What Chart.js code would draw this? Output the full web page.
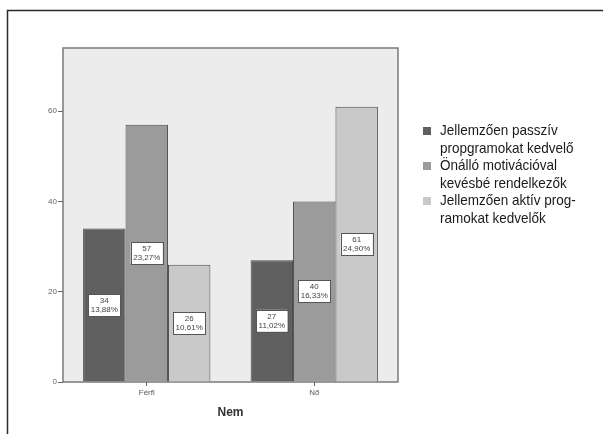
<!DOCTYPE html>
<html>
<head>
<meta charset="utf-8">
<script src="https://cdn.jsdelivr.net/npm/chart.js@4"></script>
<style>
  html, body { margin: 0; padding: 0; background: #fff; }
  #wrap { width: 603px; height: 434px; }
</style>
</head>
<body>
<div id="wrap"><canvas id="nemChart" width="603" height="434"></canvas></div>
<script>
// Nem szerinti megoszlás, programtípusonként
const categories = ['Férfi', 'Nő'];
const seriesLines = [
    ['Jellemzően passzív', 'propgramokat kedvelő'],
    ['Önálló motivációval', 'kevésbé rendelkezők'],
    ['Jellemzően aktív prog-', 'ramokat kedvelők']
];
const passzivValues = [34, 27];
const onalloValues = [57, 40];
const aktivValues = [26, 61];
const yTicks = [0, 20, 40, 60];
const yMax = 74;

const seriesColors = ['#606060', '#9b9b9b', '#c9c9c9'];
const allValues = [passzivValues, onalloValues, aktivValues];
const total = allValues.flat().reduce((a, b) => a + b, 0);

function pctText(v) {
    return (v / total * 100).toFixed(2).replace('.', ',') + '%';
}

// plot background, outer frame, value boxes and the legend
const decorPlugin = {
    id: 'decor',
    beforeDraw(chart) {
        const { ctx, chartArea: a } = chart;
        ctx.save();
        ctx.fillStyle = '#ececec';
        ctx.fillRect(a.left, a.top, a.right - a.left, a.bottom - a.top);
        ctx.strokeStyle = '#7a7a7a';
        ctx.lineWidth = 1.5;
        ctx.strokeRect(a.left, a.top, a.right - a.left, a.bottom - a.top);
        // outer frame
        ctx.strokeStyle = '#2a2a2a';
        ctx.lineWidth = 1.5;
        ctx.beginPath();
        ctx.moveTo(7.5, 434);
        ctx.lineTo(7.5, 10.5);
        ctx.lineTo(603, 10.5);
        ctx.stroke();
        ctx.restore();
    },
    afterDatasetsDraw(chart) {
        const { ctx } = chart;
        ctx.save();
        ctx.font = '8px "Liberation Sans", Arial, sans-serif';
        ctx.textAlign = 'center';
        ctx.textBaseline = 'middle';
        chart.data.datasets.forEach((ds, i) => {
            chart.getDatasetMeta(i).data.forEach((bar, j) => {
                const v = ds.data[j];
                const lines = [String(v), pctText(v)];
                const cy = (bar.y + bar.base) / 2;
                const w = Math.max(...lines.map(t => ctx.measureText(t).width)) + 5;
                const h = 22;
                ctx.fillStyle = '#ffffff';
                ctx.fillRect(bar.x - w / 2, cy - h / 2, w, h);
                ctx.strokeStyle = '#555';
                ctx.lineWidth = 1;
                ctx.strokeRect(Math.round(bar.x - w / 2) + 0.5, Math.round(cy - h / 2) + 0.5, Math.round(w), h);
                ctx.fillStyle = '#444';
                ctx.fillText(lines[0], bar.x, cy - 4.5);
                ctx.fillText(lines[1], bar.x, cy + 4.5);
            });
        });
        ctx.restore();

        // legend, text squeezed horizontally to a narrow face
        ctx.save();
        ctx.font = '15px "Liberation Sans", Arial, sans-serif';
        ctx.textBaseline = 'middle';
        ctx.textAlign = 'left';
        let y = 131;
        seriesLines.forEach((lines, i) => {
            ctx.fillStyle = seriesColors[i];
            ctx.fillRect(423, y - 4, 8, 8);
            ctx.fillStyle = '#1a1a1a';
            lines.forEach(t => {
                ctx.save();
                ctx.translate(440, y);
                ctx.scale(0.9, 1);
                ctx.fillText(t, 0, 0);
                ctx.restore();
                y += 17.5;
            });
        });
        ctx.restore();
    }
};

const datasets = allValues.map((vals, i) => ({
    label: seriesLines[i].join(' '),
    data: vals,
    backgroundColor: seriesColors[i],
    borderColor: '#4a4a4a',
    borderWidth: 1,
    categoryPercentage: 0.76,
    barPercentage: 1.0
}));

new Chart(document.getElementById('nemChart'), {
    type: 'bar',
    data: { labels: categories, datasets: datasets },
    plugins: [decorPlugin],
    options: {
        responsive: false,
        animation: false,
        events: [],
        layout: { padding: { top: 48, right: 205, left: 0, bottom: 0 } },
        plugins: {
            legend: { display: false },
            tooltip: { enabled: false }
        },
        scales: {
            x: {
                grid: { display: true, drawOnChartArea: false, offset: false, tickLength: 4, color: '#666' },
                border: { display: false },
                ticks: { color: '#555', padding: 2, font: { size: 8, family: '"Liberation Sans", Arial, sans-serif' } },
                title: {
                    display: true, text: 'Nem', color: '#333',
                    font: { size: 12, weight: 'bold', family: '"Liberation Sans", Arial, sans-serif' },
                    padding: { top: 0, bottom: 14 }
                },
                afterFit(scale) { scale.height = 52; }
            },
            y: {
                min: 0,
                max: yMax,
                afterBuildTicks(scale) { scale.ticks = yTicks.map(v => ({ value: v })); },
                grid: { display: true, drawOnChartArea: false, tickLength: 5, color: '#666' },
                border: { display: false },
                ticks: { color: '#666', padding: 1, font: { size: 8, family: '"Liberation Sans", Arial, sans-serif' } },
                afterFit(scale) { scale.width = 63; }
            }
        }
    }
});
</script>
</body>
</html>
